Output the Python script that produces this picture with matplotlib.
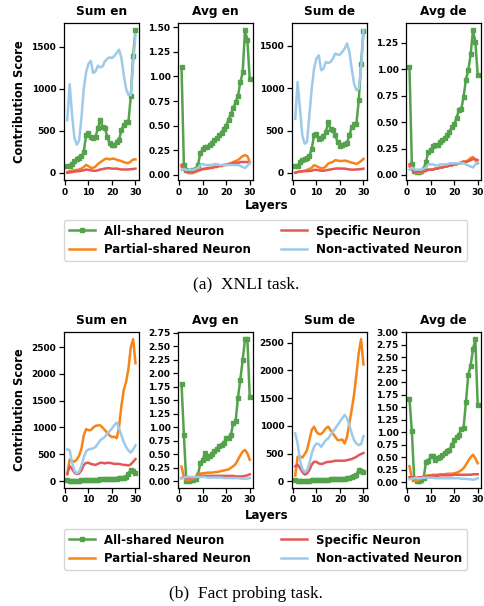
import matplotlib
matplotlib.use('Agg')
import matplotlib.pyplot as plt
import numpy as np
from matplotlib.ticker import MultipleLocator, FormatStrFormatter

layers = np.arange(1, 31)

# (a) XNLI task
xnli_sum_en_all = [80, 80, 110, 140, 160, 175, 200, 250, 450, 470, 430, 410, 430, 530, 630, 550, 530, 430, 350, 330, 330, 370, 390, 510, 570, 600, 610, 910, 1390, 1700]
xnli_sum_en_part = [10, 20, 25, 30, 35, 40, 50, 70, 95, 80, 60, 60, 75, 105, 125, 145, 165, 170, 160, 168, 168, 156, 148, 140, 128, 120, 116, 136, 160, 160]
xnli_sum_en_spec = [0, 5, 10, 15, 18, 20, 25, 30, 40, 35, 30, 25, 25, 30, 40, 45, 50, 55, 55, 50, 50, 50, 45, 40, 40, 40, 40, 45, 45, 50]
xnli_sum_en_non = [628, 1056, 700, 420, 336, 380, 650, 1000, 1200, 1300, 1336, 1190, 1208, 1276, 1256, 1268, 1328, 1360, 1376, 1368, 1392, 1428, 1468, 1368, 1168, 1000, 928, 928, 1300, 1650]

xnli_avg_en_all = [1.10, 0.10, 0.05, 0.04, 0.04, 0.05, 0.06, 0.10, 0.22, 0.26, 0.28, 0.28, 0.30, 0.32, 0.35, 0.37, 0.40, 0.43, 0.47, 0.50, 0.56, 0.62, 0.68, 0.74, 0.80, 0.94, 1.04, 1.47, 1.37, 0.97]
xnli_avg_en_part = [0.08, 0.05, 0.03, 0.02, 0.02, 0.02, 0.03, 0.04, 0.05, 0.06, 0.06, 0.06, 0.07, 0.07, 0.08, 0.08, 0.09, 0.09, 0.10, 0.10, 0.11, 0.12, 0.13, 0.14, 0.15, 0.17, 0.19, 0.20, 0.19, 0.13]
xnli_avg_en_spec = [0.10, 0.06, 0.03, 0.03, 0.03, 0.03, 0.04, 0.05, 0.05, 0.06, 0.06, 0.07, 0.07, 0.07, 0.08, 0.08, 0.09, 0.09, 0.10, 0.10, 0.11, 0.11, 0.12, 0.12, 0.12, 0.13, 0.13, 0.13, 0.13, 0.12]
xnli_avg_en_non = [0.05, 0.06, 0.05, 0.05, 0.05, 0.05, 0.06, 0.07, 0.10, 0.11, 0.10, 0.10, 0.10, 0.10, 0.11, 0.11, 0.10, 0.10, 0.10, 0.10, 0.10, 0.10, 0.10, 0.10, 0.10, 0.09, 0.08, 0.07, 0.09, 0.12]

xnli_sum_de_all = [79, 79, 126, 146, 166, 174, 198, 284, 442, 462, 403, 411, 430, 482, 600, 521, 502, 442, 363, 316, 324, 343, 355, 442, 541, 573, 580, 857, 1292, 1675]
xnli_sum_de_part = [5, 10, 15, 20, 25, 35, 45, 60, 90, 80, 65, 55, 55, 75, 110, 120, 130, 150, 145, 140, 140, 145, 140, 130, 120, 115, 105, 120, 140, 165]
xnli_sum_de_spec = [0, 10, 15, 18, 20, 20, 22, 25, 35, 35, 30, 25, 25, 30, 35, 40, 45, 50, 52, 50, 50, 50, 45, 40, 38, 38, 40, 42, 45, 50]
xnli_sum_de_non = [640, 1075, 758, 442, 344, 364, 680, 995, 1232, 1351, 1390, 1213, 1232, 1311, 1300, 1311, 1351, 1410, 1398, 1398, 1430, 1469, 1529, 1430, 1232, 1055, 976, 995, 1232, 1687]

xnli_avg_de_all = [1.02, 0.10, 0.04, 0.03, 0.03, 0.04, 0.06, 0.12, 0.22, 0.24, 0.27, 0.28, 0.28, 0.31, 0.33, 0.35, 0.38, 0.41, 0.45, 0.48, 0.54, 0.61, 0.62, 0.74, 0.90, 0.99, 1.14, 1.37, 1.26, 0.95]
xnli_avg_de_part = [0.08, 0.05, 0.03, 0.02, 0.02, 0.02, 0.03, 0.04, 0.05, 0.05, 0.05, 0.06, 0.06, 0.07, 0.07, 0.08, 0.08, 0.09, 0.09, 0.10, 0.10, 0.11, 0.12, 0.13, 0.13, 0.14, 0.16, 0.17, 0.14, 0.11]
xnli_avg_de_spec = [0.10, 0.06, 0.03, 0.03, 0.03, 0.03, 0.04, 0.04, 0.05, 0.05, 0.05, 0.06, 0.06, 0.07, 0.07, 0.08, 0.08, 0.09, 0.09, 0.10, 0.10, 0.11, 0.11, 0.12, 0.12, 0.13, 0.14, 0.15, 0.15, 0.14]
xnli_avg_de_non = [0.05, 0.07, 0.05, 0.05, 0.05, 0.05, 0.06, 0.07, 0.10, 0.10, 0.10, 0.09, 0.09, 0.10, 0.10, 0.10, 0.10, 0.11, 0.11, 0.11, 0.11, 0.11, 0.11, 0.11, 0.10, 0.09, 0.08, 0.07, 0.10, 0.12]

# (b) Fact probing task
fact_sum_en_all = [10, 5, 5, 5, 5, 8, 10, 12, 15, 18, 20, 22, 25, 28, 30, 32, 35, 35, 38, 40, 42, 45, 50, 55, 65, 80, 140, 210, 190, 150]
fact_sum_en_part = [130, 400, 380, 360, 400, 470, 600, 850, 970, 950, 950, 1000, 1030, 1040, 1040, 1000, 950, 900, 850, 820, 830, 800, 1000, 1400, 1700, 1850, 2100, 2500, 2650, 2200]
fact_sum_en_spec = [130, 280, 230, 160, 130, 140, 200, 300, 340, 340, 320, 310, 300, 320, 340, 340, 330, 340, 340, 330, 320, 320, 320, 310, 300, 300, 290, 310, 360, 410]
fact_sum_en_non = [590, 580, 350, 190, 146, 171, 286, 444, 552, 590, 600, 610, 635, 698, 762, 794, 825, 889, 933, 984, 1048, 1092, 984, 857, 730, 635, 571, 530, 590, 667]

fact_avg_en_all = [1.80, 0.86, 0.01, 0.01, 0.02, 0.02, 0.05, 0.12, 0.34, 0.40, 0.52, 0.43, 0.46, 0.51, 0.56, 0.59, 0.65, 0.68, 0.71, 0.80, 0.81, 0.86, 1.08, 1.11, 1.55, 1.88, 2.24, 2.63, 2.63, 1.56]
fact_avg_en_part = [0.27, 0.08, 0.02, 0.03, 0.03, 0.05, 0.08, 0.12, 0.14, 0.15, 0.15, 0.16, 0.16, 0.16, 0.17, 0.17, 0.18, 0.19, 0.20, 0.21, 0.22, 0.25, 0.28, 0.32, 0.40, 0.48, 0.55, 0.58, 0.52, 0.40]
fact_avg_en_spec = [0.06, 0.08, 0.07, 0.06, 0.06, 0.07, 0.08, 0.09, 0.10, 0.10, 0.10, 0.10, 0.10, 0.10, 0.10, 0.10, 0.10, 0.10, 0.10, 0.10, 0.10, 0.10, 0.10, 0.09, 0.09, 0.09, 0.09, 0.10, 0.11, 0.13]
fact_avg_en_non = [0.05, 0.07, 0.08, 0.08, 0.08, 0.08, 0.08, 0.08, 0.08, 0.08, 0.08, 0.07, 0.07, 0.07, 0.07, 0.07, 0.07, 0.07, 0.06, 0.06, 0.06, 0.06, 0.06, 0.06, 0.06, 0.05, 0.05, 0.05, 0.05, 0.06]

fact_sum_de_all = [15, 10, 8, 8, 8, 10, 12, 14, 16, 18, 20, 22, 25, 28, 30, 32, 35, 38, 40, 42, 45, 48, 52, 58, 70, 90, 120, 210, 180, 160]
fact_sum_de_part = [103, 438, 450, 426, 487, 560, 742, 924, 985, 894, 851, 851, 894, 955, 985, 924, 863, 803, 742, 742, 754, 681, 803, 1046, 1289, 1563, 1927, 2322, 2566, 2110]
fact_sum_de_spec = [270, 300, 240, 170, 120, 140, 200, 300, 350, 350, 320, 310, 320, 340, 350, 350, 360, 370, 370, 370, 370, 370, 380, 390, 400, 420, 440, 470, 490, 510]
fact_sum_de_non = [863, 681, 377, 225, 164, 195, 316, 499, 620, 681, 669, 620, 681, 742, 772, 833, 894, 955, 1015, 1076, 1137, 1198, 1137, 1015, 863, 742, 681, 651, 669, 815]

fact_avg_de_all = [1.67, 1.02, 0.06, 0.03, 0.03, 0.04, 0.08, 0.40, 0.42, 0.52, 0.53, 0.45, 0.48, 0.50, 0.55, 0.58, 0.63, 0.65, 0.75, 0.85, 0.90, 0.95, 1.07, 1.09, 1.60, 2.15, 2.33, 2.66, 2.86, 1.55]
fact_avg_de_part = [0.32, 0.08, 0.03, 0.03, 0.05, 0.08, 0.11, 0.13, 0.14, 0.14, 0.15, 0.15, 0.15, 0.16, 0.16, 0.16, 0.17, 0.17, 0.17, 0.18, 0.19, 0.21, 0.24, 0.28, 0.35, 0.43, 0.50, 0.55, 0.48, 0.38]
fact_avg_de_spec = [0.10, 0.10, 0.09, 0.09, 0.10, 0.10, 0.11, 0.12, 0.12, 0.13, 0.13, 0.13, 0.13, 0.14, 0.14, 0.14, 0.14, 0.14, 0.14, 0.15, 0.15, 0.15, 0.15, 0.15, 0.15, 0.15, 0.15, 0.16, 0.16, 0.16]
fact_avg_de_non = [0.06, 0.07, 0.08, 0.08, 0.08, 0.08, 0.09, 0.09, 0.09, 0.09, 0.09, 0.08, 0.08, 0.08, 0.08, 0.08, 0.08, 0.08, 0.08, 0.08, 0.08, 0.08, 0.07, 0.07, 0.07, 0.06, 0.06, 0.05, 0.06, 0.08]

titles = ['Sum en', 'Avg en', 'Sum de', 'Avg de']
labels = ['All-shared Neuron', 'Partial-shared Neuron', 'Specific Neuron', 'Non-activated Neuron']
colors = ['#54a24b', '#f58518', '#e45756', '#9ecae9']

plt.rcParams['font.family'] = 'DejaVu Sans'
plt.rcParams['font.weight'] = 'bold'

fig = plt.figure(figsize=(4.84, 6.06), dpi=100)

lefts = [0.132, 0.368, 0.603, 0.839]
width = 0.155


def draw_panel(ax, series, title, avg):
    for i, ys in enumerate(series):
        if i == 0:
            ax.plot(layers, ys, color=colors[i], lw=1.8, marker='s', ms=3.3, label=labels[i])
        else:
            ax.plot(layers, ys, color=colors[i], lw=1.8, label=labels[i])
    ax.set_title(title, fontsize=8.7, fontweight='bold', pad=6)
    ax.set_xticks([0, 10, 20, 30])
    if avg:
        ax.yaxis.set_major_locator(MultipleLocator(0.25))
        ax.yaxis.set_major_formatter(FormatStrFormatter('%.2f'))
    else:
        ax.yaxis.set_major_locator(MultipleLocator(500))
    ax.tick_params(labelsize=6.5, length=3.5, width=0.9, pad=2)
    for lab in ax.get_xticklabels() + ax.get_yticklabels():
        lab.set_fontweight('bold')
    for sp in ax.spines.values():
        sp.set_linewidth(0.9)


rows = [
    (0.703, 0.259, [
        [xnli_sum_en_all, xnli_sum_en_part, xnli_sum_en_spec, xnli_sum_en_non],
        [xnli_avg_en_all, xnli_avg_en_part, xnli_avg_en_spec, xnli_avg_en_non],
        [xnli_sum_de_all, xnli_sum_de_part, xnli_sum_de_spec, xnli_sum_de_non],
        [xnli_avg_de_all, xnli_avg_de_part, xnli_avg_de_spec, xnli_avg_de_non],
    ], 0.661, 0.647, 0.530, '(a)  XNLI task.'),
    (0.195, 0.257, [
        [fact_sum_en_all, fact_sum_en_part, fact_sum_en_spec, fact_sum_en_non],
        [fact_avg_en_all, fact_avg_en_part, fact_avg_en_spec, fact_avg_en_non],
        [fact_sum_de_all, fact_sum_de_part, fact_sum_de_spec, fact_sum_de_non],
        [fact_avg_de_all, fact_avg_de_part, fact_avg_de_spec, fact_avg_de_non],
    ], 0.149, 0.137, 0.019, '(b)  Fact probing task.'),
]

for bottom, height, panels, xlab_y, leg_y, cap_y, caption in rows:
    axes = []
    for j in range(4):
        ax = fig.add_axes([lefts[j], bottom, width, height])
        draw_panel(ax, panels[j], titles[j], j % 2 == 1)
        axes.append(ax)
    axes[0].set_ylabel('Contribution Score', fontsize=8.3, fontweight='bold', labelpad=4)
    fig.text(0.55, xlab_y, 'Layers', ha='center', va='center', fontsize=8.5, fontweight='bold')
    h, l = axes[0].get_legend_handles_labels()
    fig.legend(h, l, loc='upper center', bbox_to_anchor=(0.549, leg_y), ncol=2,
               prop={'size': 8.5, 'weight': 'bold'}, handlelength=2.2,
               columnspacing=2.5, borderpad=0.4, labelspacing=0.45)
    fig.text(0.508, cap_y, caption, ha='center', va='center', fontsize=12.5,
             family='Liberation Serif', fontweight='normal')

fig.savefig('out.png', dpi=100)
